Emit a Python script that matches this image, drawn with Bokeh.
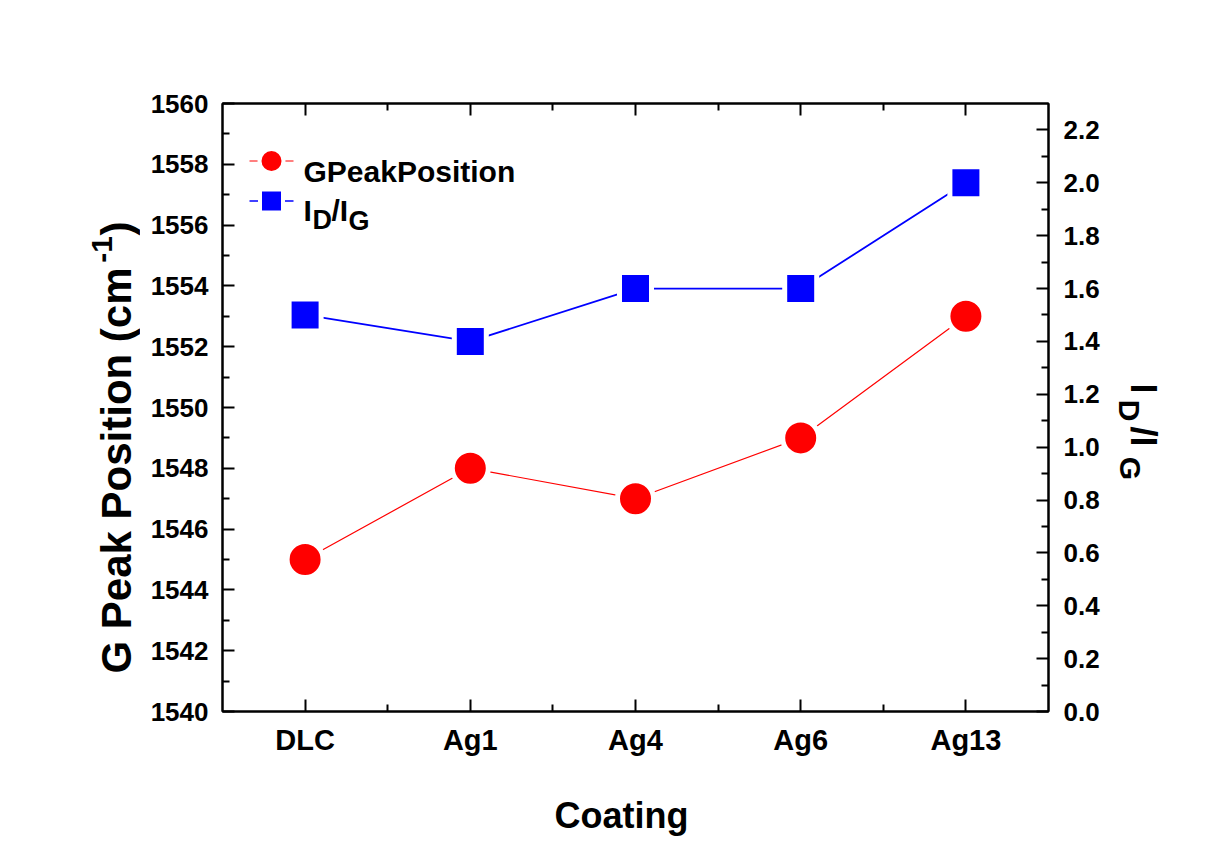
import math
from bokeh.plotting import figure
from bokeh.layouts import row, column
from bokeh.models import Range1d, LinearAxis, FixedTicker, Label, NumeralTickFormatter, ColumnDataSource
from bokeh.embed import file_html
from bokeh.resources import INLINE

# ---------------- data ----------------
categories = ["DLC", "Ag1", "Ag4", "Ag6", "Ag13"]
g_peak_position = [1545, 1548, 1547, 1549, 1553]
id_ig_ratio = [1.5, 1.4, 1.6, 1.6, 2.0]
left_major_ticks = [1540, 1542, 1544, 1546, 1548, 1550, 1552, 1554, 1556, 1558, 1560]
left_minor_ticks = [1541, 1543, 1545, 1547, 1549, 1551, 1553, 1555, 1557, 1559]
right_major_ticks = [0.0, 0.2, 0.4, 0.6, 0.8, 1.0, 1.2, 1.4, 1.6, 1.8, 2.0, 2.2]
right_minor_ticks = [0.1, 0.3, 0.5, 0.7, 0.9, 1.1, 1.3, 1.5, 1.7, 1.9, 2.1]
left_range = (1540, 1560)
right_range = (0.0, 2.3)

# ---------------- layout (canvas pixels) ----------------
W, H = 1205, 841
FL, FR, FT, FB = 222, 1048, 103, 711      # plot frame
LW = 140                                  # left title strip width
RX = 1105                                 # right title strip starts here
TOPH = 770                                # height of the top row
FONT = "Liberation Sans"

xs = list(range(len(categories)))
x_minor = [i + 0.5 for i in xs[:-1]]

p = figure(width=RX - LW, height=TOPH, output_backend="svg", toolbar_location=None,
           x_range=Range1d(-0.5, len(categories) - 0.5),
           y_range=Range1d(*left_range),
           min_border_left=FL - LW, min_border_right=RX - FR,
           min_border_top=FT, min_border_bottom=TOPH - FB)
p.extra_y_ranges = {"right": Range1d(*right_range)}
p.xgrid.visible = False
p.ygrid.visible = False
p.outline_line_color = "black"
p.outline_line_width = 2
p.background_fill_color = "white"
p.border_fill_color = "white"


def style_axis(ax, size="26px", standoff=14):
    ax.axis_line_width = 2
    ax.axis_line_color = "black"
    ax.major_tick_in = 12
    ax.major_tick_out = 0
    ax.minor_tick_in = 7
    ax.minor_tick_out = 0
    ax.major_tick_line_width = 2
    ax.minor_tick_line_width = 2
    ax.major_label_text_font = FONT
    ax.major_label_text_font_style = "bold"
    ax.major_label_text_font_size = size
    ax.major_label_text_color = "black"
    ax.major_label_standoff = standoff
    ax.axis_label = None


xax = p.xaxis[0]
xax.ticker = FixedTicker(ticks=xs, minor_ticks=x_minor)
xax.major_label_overrides = {i: c for i, c in zip(xs, categories)}
style_axis(xax, size="29px", standoff=12)

top = LinearAxis(ticker=FixedTicker(ticks=xs, minor_ticks=x_minor))
style_axis(top)
top.major_label_text_font_size = "0px"
top.major_label_text_alpha = 0
p.add_layout(top, "above")

yax = p.yaxis[0]
yax.ticker = FixedTicker(ticks=left_major_ticks, minor_ticks=left_minor_ticks)
style_axis(yax, size="26px", standoff=14)

rax = LinearAxis(y_range_name="right",
                 ticker=FixedTicker(ticks=right_major_ticks, minor_ticks=right_minor_ticks),
                 formatter=NumeralTickFormatter(format="0.0"))
style_axis(rax, size="26px", standoff=15)
p.add_layout(rax, "right")

# ---------------- series ----------------
src = ColumnDataSource(dict(x=xs, g=g_peak_position, r=id_ig_ratio))
p.line("x", "g", source=src, line_color="#ff0000", line_width=1.2)
p.line("x", "r", source=src, line_color="#0000ff", line_width=1.8, y_range_name="right")
p.scatter("x", "g", source=src, marker="circle", size=36, fill_color="#ff0000",
          line_color="white", line_width=5)
p.scatter("x", "r", source=src, marker="square", size=32, fill_color="#0000ff",
          line_color="white", line_width=5, y_range_name="right")


# ---------------- legend (manual, for subscripts) ----------------
def xd(sx):
    return -0.5 + (sx - FL) / (FR - FL) * len(categories)


def yd(sy):
    return left_range[0] + (FB - sy) / (FB - FT) * (left_range[1] - left_range[0])


p.segment(x0=[xd(249)], y0=[yd(160.5)], x1=[xd(293)], y1=[yd(160.5)], line_color="#ff0000", line_width=1.2)
p.scatter(x=[xd(271)], y=[yd(160.5)], marker="circle", size=24, fill_color="#ff0000",
          line_color="white", line_width=4)
p.segment(x0=[xd(249)], y0=[yd(200.5)], x1=[xd(293)], y1=[yd(200.5)], line_color="#0000ff", line_width=1.5)
p.scatter(x=[xd(271)], y=[yd(200.5)], marker="square", size=23, fill_color="#0000ff",
          line_color="white", line_width=4)


def mk_label(fig, text, x, y, size, angle=0.0, align="left", baseline="alphabetic", units="data"):
    fig.add_layout(Label(x=x, y=y, x_units=units, y_units=units,
                         text=text, text_font=FONT, text_font_style="bold",
                         text_font_size=size, text_color="black", angle=angle,
                         text_align=align, text_baseline=baseline))


def leg(text, sx, sy, size):
    mk_label(p, text, sx - FL, FB - sy, size, units="screen")


leg("GPeakPosition", 303, 171, "30px")
leg("I", 303, 210, "30px")
leg("D", 312, 219, "27px")
leg("/I", 331, 210, "30px")
leg("G", 348, 220, "27px")


# ---------------- title strips (separate plain figures) ----------------
# In a row, Bokeh aligns the frames of the figures, so the side strips get the
# same vertical frame (FT..FB) as the main plot; their y range is chosen so
# that data y == TOPH - canvas y.
def strip(w, h, y0, y1, top=0, bottom=0):
    f = figure(width=w, height=h, output_backend="svg", toolbar_location=None,
               x_range=Range1d(0, w), y_range=Range1d(y0, y1),
               x_axis_type=None, y_axis_type=None, min_border=0,
               min_border_left=0, min_border_right=0,
               min_border_top=top, min_border_bottom=bottom)
    f.outline_line_color = None
    f.xgrid.visible = False
    f.ygrid.visible = False
    f.background_fill_color = "white"
    f.border_fill_color = "white"
    return f


left_fig = strip(LW, TOPH, TOPH - FB, TOPH - FT, top=FT, bottom=TOPH - FB)
right_fig = strip(W - RX, TOPH, TOPH - FB, TOPH - FT, top=FT, bottom=TOPH - FB)
bottom_fig = strip(W, H - TOPH, 0, H - TOPH)


def in_left(text, cx, cy, size, angle):
    mk_label(left_fig, text, cx, TOPH - cy, size, angle=angle, align="center", baseline="middle")


def in_right(text, cx, cy, size, angle):
    mk_label(right_fig, text, cx - RX, TOPH - cy, size, angle=angle, align="center", baseline="middle")


# left title, reads bottom to top (centres of each piece)
in_left("G Peak Position (cm", 116, 470, "42px", math.pi / 2)
in_left("-1", 101, 249, "30px", math.pi / 2)
in_left(")", 116, 228, "42px", math.pi / 2)

# right title, reads top to bottom (centres of each piece)
in_right("I", 1143, 388, "36px", -math.pi / 2)
in_right("D", 1129, 410, "30px", -math.pi / 2)
in_right("/I", 1143, 436, "36px", -math.pi / 2)
in_right("G", 1130, 468, "30px", -math.pi / 2)

# bottom title
mk_label(bottom_fig, "Coating", 621, (H - TOPH) - (815 - TOPH), "36px", align="center")

layout = column(row(left_fig, p, right_fig, spacing=0), bottom_fig, spacing=0)

open("out.html", "w").write(file_html(layout, INLINE))
